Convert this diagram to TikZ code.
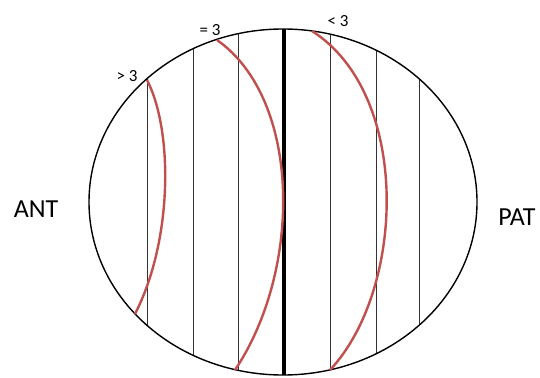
\documentclass[tikz,border=0pt]{standalone}
\usepackage{fontspec}
\setmainfont{Carlito}
\definecolor{rosso}{RGB}{192,80,77}
\tikzset{
  bordo/.style = {line width=1.4pt},
  fetta/.style = {line width=0.8pt, black!80},
  asse/.style  = {line width=3.6pt},
  curva/.style = {line width=2.4pt, rosso},
  lato/.style  = {font=\fontsize{26}{26}\selectfont},
  et/.style    = {font=\fontsize{17}{17}\selectfont, inner sep=0}
}

\begin{document}
\begin{tikzpicture}[x=1pt,y=-1pt]
  \useasboundingbox (0,0) rectangle (540,377);

  % fette verticali
  \begin{scope}
    \clip (283,202) ellipse [x radius=194, y radius=173];
    \foreach \x in {147,193,238,330,376,419} \draw[fetta] (\x,0) -- (\x,377);
    \draw[asse] (284,0) -- (284,377);
  \end{scope}
  \draw[bordo] (283,202) ellipse [x radius=194, y radius=173];

  % curve
  \draw[curva] (147,80) .. controls (173,130) and (173,240) .. (135,314);
  \draw[curva] (217,40) .. controls (302,100) and (302,270) .. (235,370);
  \draw[curva] (312,31) .. controls (412,95) and (405,290) .. (330,370);

  % etichette
  \node[lato] (ant) at (36,209) {ANT};
  \node[lato] (pat) at (517,217) {PAT};
  \node[et] (gt) at (127,76) {> 3};
  \node[et] (eq) at (210,30) {= 3};
  \node[et] (lt) at (338,21) {< 3};

\end{tikzpicture}
\end{document}
